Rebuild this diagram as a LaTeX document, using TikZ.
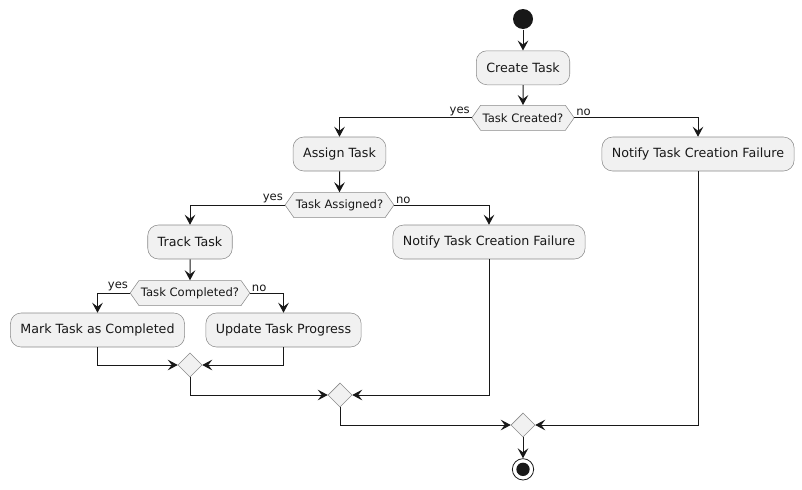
\documentclass[tikz,border=0pt]{standalone}
\usepackage{fontspec}
\setmainfont{DejaVu Sans}
\usetikzlibrary{positioning,arrows.meta,shapes.geometric,shapes.symbols}
\definecolor{boxfill}{HTML}{F1F1F1}
\definecolor{boxline}{HTML}{8A8A8A}
\definecolor{ink}{HTML}{181818}

\begin{document}
\begin{tikzpicture}[
    x=0.75pt, y=-0.75pt,
    ->,
    >={Stealth[length=7.5pt, width=8pt, inset=3pt]},
    color=ink,
    line width=0.75pt,
    node distance=15.75pt,
    action/.style={rectangle, rounded corners=8pt, draw=boxline, line width=0.4pt, fill=boxfill, minimum height=25.5pt, inner xsep=7.5pt, font=\fontsize{9.5}{11}\selectfont},
    choice/.style={signal, signal to=west and east, signal pointer angle=110, draw=boxline, line width=0.4pt, fill=boxfill, minimum height=18.75pt, inner xsep=1.5pt, font=\fontsize{8.7}{10}\selectfont},
    merge/.style={diamond, draw=boxline, line width=0.4pt, fill=boxfill, minimum size=18pt, inner sep=0pt},
    yes/.style={anchor=south east, inner sep=1pt, font=\fontsize{8.7}{10}\selectfont},
    no/.style={anchor=south west, inner sep=1pt, font=\fontsize{8.7}{10}\selectfont},
]
    \useasboundingbox (0,0) rectangle (802,489);

    \node[circle, fill=ink, minimum size=15pt, inner sep=0pt] (start) at (523,19) {};
    \node[action, below=of start] (create) {Create Task};
    \node[choice, below=15pt of create] (created) {Task Created?};
    \node[action] (assign) at (339.5,154) {Assign Task};
    \node[action] (notifyA) at (698,154) {Notify Task Creation Failure};
    \node[choice, below=of assign] (assigned) {Task Assigned?};
    \node[action] (track) at (190,242) {Track Task};
    \node[action] (notifyB) at (489,242) {Notify Task Creation Failure};
    \node[choice, below=of track] (completed) {Task Completed?};
    \node[action] (mark) at (97.5,330) {Mark Task as Completed};
    \node[action] (update) at (283.5,330) {Update Task Progress};
    \node[merge] (mergeA) at (190,365) {};
    \node[merge] (mergeB) at (340,395) {};
    \node[merge] (mergeC) at (523,425) {};
    \node[circle, draw=ink, line width=0.6pt, fill=white, minimum size=16pt, inner sep=0pt, below=of mergeC,
        path picture={\fill[ink] (path picture bounding box.center) circle (5pt);}] (stop) {};

    \draw (start) -- (create);
    \draw (create) -- (created);
    \draw (created.west) -| node[pos=0, yes] {yes} (assign);
    \draw (created.east) -| node[pos=0, no] {no} (notifyA);
    \draw (assign) -- (assigned);
    \draw (assigned.west) -| node[pos=0, yes] {yes} (track);
    \draw (assigned.east) -| node[pos=0, no] {no} (notifyB);
    \draw (track) -- (completed);
    \draw (completed.west) -| node[pos=0, yes] {yes} (mark);
    \draw (completed.east) -| node[pos=0, no] {no} (update);
    \draw (mark) |- (mergeA);
    \draw (update) |- (mergeA);
    \draw (mergeA) |- (mergeB);
    \draw (notifyB) |- (mergeB);
    \draw (mergeB) |- (mergeC);
    \draw (notifyA) |- (mergeC);
    \draw (mergeC) -- (stop);
\end{tikzpicture}
\end{document}
